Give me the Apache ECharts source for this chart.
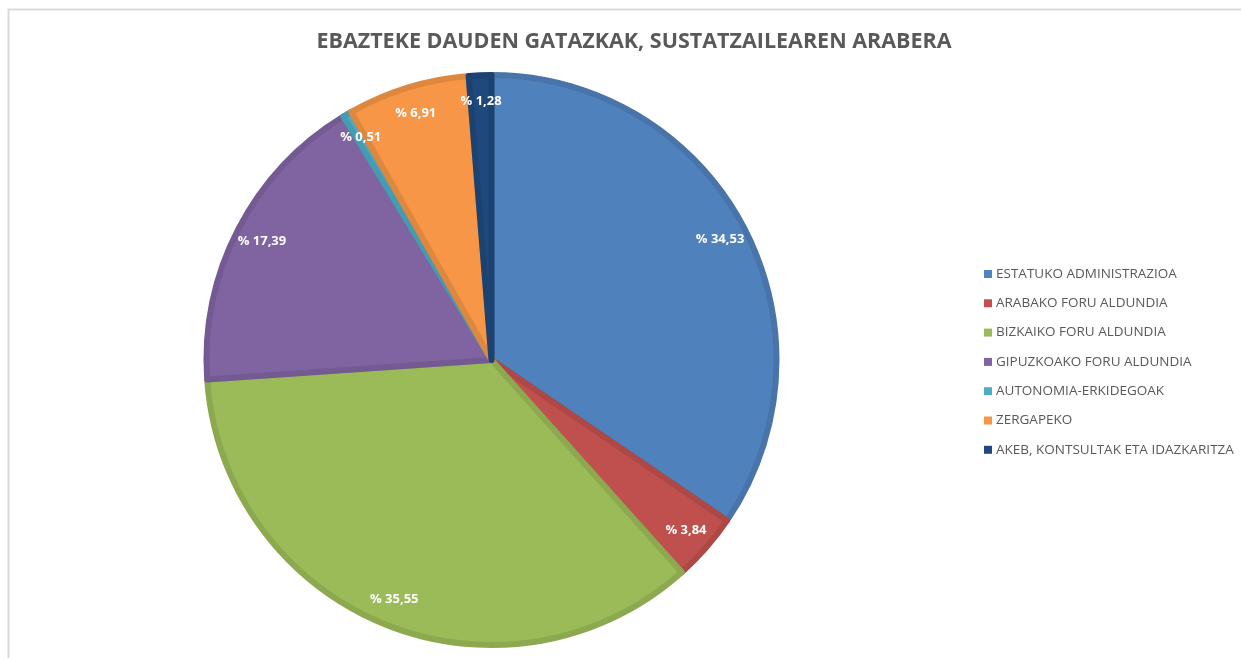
<!DOCTYPE html>
<html>
<head>
    <meta charset="utf-8">
    <script src="https://cdn.jsdelivr.net/npm/echarts@6.0.0/dist/echarts.min.js"></script>
    <style>
        html, body { margin: 0; padding: 0; background: #fff; }
    </style>
</head>
<body>
    <div id="echartsMain" style="width: 1241px; height: 658px;"></div>
</body>
</html>

<script type="text/javascript">
    let names = [
        'ESTATUKO ADMINISTRAZIOA',
        'ARABAKO FORU ALDUNDIA',
        'BIZKAIKO FORU ALDUNDIA',
        'GIPUZKOAKO FORU ALDUNDIA',
        'AUTONOMIA-ERKIDEGOAK',
        'ZERGAPEKO',
        'AKEB, KONTSULTAK ETA IDAZKARITZA'
    ]
    let values = [34.53, 3.84, 35.55, 17.39, 0.51, 6.91, 1.28]
    let colors = ['#4F81BD', '#C0504D', '#9BBB59', '#8064A2', '#4BACC6', '#F79646', '#1F497D']
    let borders = ['#4874AA', '#AD4846', '#8CA950', '#735A92', '#449BB2', '#DE873F', '#1C4271']

    function draw() {
        let myChart = echarts.init(document.getElementById('echartsMain'));

        let pieData = names.map((n, i) => ({
            name: n,
            value: values[i],
            itemStyle: { color: colors[i], borderColor: borders[i], borderWidth: 6 }
        }))
        let labelData = names.map((n, i) => ({ name: n, value: values[i] }))

        let option = {
            animation: false,
            title: {
                text: 'EBAZTEKE DAUDEN GATAZKAK, SUSTATZAILEAREN ARABERA',
                left: 629,
                top: 26,
                textAlign: 'center',
                textStyle: {
                    fontFamily: 'Open Sans',
                    fontSize: 21.5,
                    fontWeight: 'bold',
                    color: '#595959'
                }
            },
            legend: {
                orient: 'vertical',
                left: 979,
                top: 261,
                itemWidth: 8,
                itemHeight: 8,
                itemGap: 13.3,
                icon: 'rect',
                itemStyle: { borderWidth: 0 },
                data: names.map((n, i) => ({ name: n, itemStyle: { color: colors[i], borderWidth: 0 } })),
                textStyle: {
                    fontFamily: 'Open Sans',
                    fontSize: 13.5,
                    lineHeight: 16,
                    color: '#595959',
                    padding: [0, 0, 0, -1]
                }
            },
            graphic: [{
                type: 'rect',
                shape: { x: 8.5, y: 9.5, width: 1300, height: 700 },
                style: { fill: 'none', stroke: '#d9d9d9', lineWidth: 2 },
                silent: true
            }],
            series: [
                {
                    type: 'pie',
                    center: [491.5, 360],
                    radius: [0, 285],
                    startAngle: 90,
                    clockwise: true,
                    label: { show: false },
                    labelLine: { show: false },
                    emphasis: { disabled: true },
                    data: pieData
                },
                {
                    type: 'pie',
                    center: [491.5, 360],
                    radius: [226, 285],
                    startAngle: 90,
                    clockwise: true,
                    silent: true,
                    itemStyle: { color: 'rgba(0,0,0,0)' },
                    label: {
                        show: true,
                        position: 'inside',
                        formatter: p => '% ' + p.value.toFixed(2).replace('.', ','),
                        fontFamily: 'Open Sans',
                        fontSize: 13,
                        fontWeight: 'bold',
                        color: '#ffffff'
                    },
                    labelLine: { show: false },
                    data: labelData
                }
            ]
        };
        myChart.setOption(option);
    }

    draw()
</script>
